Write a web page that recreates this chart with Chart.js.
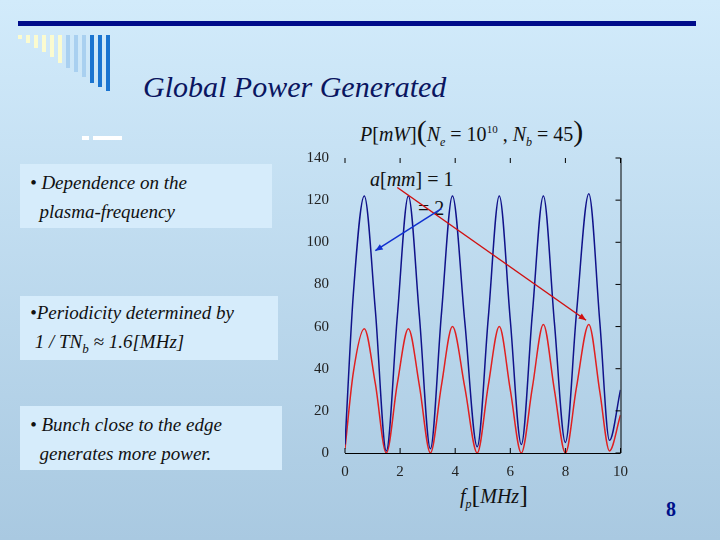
<!DOCTYPE html>
<html><head><meta charset="utf-8">
<script src="https://cdn.jsdelivr.net/npm/chart.js@4"></script>
<style>
body{margin:0;width:720px;height:540px;overflow:hidden;background:linear-gradient(#d2ebfb,#a9c9e1);font-family:"Liberation Serif",serif;position:relative}
.abs{position:absolute}
.box{position:absolute;box-sizing:border-box;background:#d6ecfb;font-style:italic;font-size:19px;color:#111;line-height:29px}
#c{position:absolute;left:305px;top:141px}
</style></head><body>
<div class="abs" style="left:18px;top:21px;width:678px;height:5px;background:#000c8a"></div>
<div class="abs" id="bars" style="left:18px;top:35px"></div>
<div class="abs" style="left:82px;top:136px;width:7px;height:4px;background:#fff"></div>
<div class="abs" style="left:93px;top:136px;width:29px;height:4px;background:#fff"></div>
<div class="abs" style="left:143px;top:70px;font-size:30px;font-style:italic;color:#0a1560">Global Power Generated</div>
<div class="box" style="left:20px;top:164px;width:252px;height:64px;padding:4px 0 0 10px">• Dependence on the<br>&nbsp;&nbsp;plasma-frequency</div>
<div class="box" style="left:20px;top:296px;width:258px;height:64px;padding:2px 0 0 10px">•Periodicity determined by<br>&nbsp;1 / <i>TN</i><sub style="font-size:13px">b</sub> &#x2248; 1.6[<i>MHz</i>]</div>
<div class="box" style="left:20px;top:406px;width:262px;height:64px;padding:4px 0 0 10px">• Bunch close to the edge<br>&nbsp;&nbsp;generates more power.</div>
<div class="abs" style="left:360px;top:114px;font-size:20px;color:#111"><i>P</i>[<i>mW</i>]<span style="font-size:30px">(</span><i>N<sub style="font-size:12px">e</sub></i> = 10<sup style="font-size:11px">10</sup> , <i>N<sub style="font-size:12px">b</sub></i> = 45<span style="font-size:30px">)</span></div>
<div class="abs" style="left:370px;top:168px;font-size:20px;color:#111"><i>a</i>[<i>mm</i>] = 1</div>
<div class="abs" style="left:418px;top:197px;font-size:20px;color:#111">= 2</div>
<div class="abs" style="left:460px;top:480px;font-size:20px;color:#111"><i>f<sub style="font-size:12px">p</sub></i><span style="font-size:26px">[</span><i>MHz</i><span style="font-size:26px">]</span></div>
<div class="abs" style="left:666px;top:498px;font-size:20px;font-weight:bold;color:#00108a">8</div>
<canvas id="c" width="325" height="342"></canvas>
<script>
// decorative bars top-left
const barCols=['#fbfbd0','#fbfbd0','#fbfbd0','#fbfbd0','#fbfbd0','#fbfbd0','#a9d0f0','#a9d0f0','#a9d0f0','#1a74d0','#1a74d0','#1a74d0'];
const barH=[4,8,13,17,22,28,33,37,42,48,52,56];
document.getElementById('bars').innerHTML=barCols.map((c,i)=>`<div style="position:absolute;left:${i*8}px;top:0;width:4px;height:${barH[i]}px;background:${c}"></div>`).join('');

const freq=[0,0.3,0.7,1.1,1.5,1.9,2.3,2.7,3.1,3.5,3.9,4.35,4.8,5.2,5.6,6.0,6.4,6.8,7.2,7.6,8.0,8.4,8.85,9.25,9.6,10];
const powerA2=[4,75,122,68,1,65,122,65,2,66,122,62,3,64,122,63,4,66,122,62,5,66,123,62,6,30];
const powerA1=[2,38,59,33,0,33,59,32,0,32,60,31,0,32,60,30,0,31,61,30,0,31,61,29,1,18];
const xTicks=[0,2,4,6,8,10];
const yTicks=[0,20,40,60,80,100,120,140];

const pts=a=>freq.map((x,i)=>({x:x,y:a[i]}));
const arrows=[{from:[1.9,126],to:[8.75,63],color:'#d01010'},{from:[3.5,116],to:[1.1,96],color:'#1030d0'}];
const deco={id:'deco',afterDraw(ch){
  const {ctx,chartArea:a,scales:{x,y}}=ch;
  ctx.save();ctx.strokeStyle='#000';ctx.lineWidth=1;
  ctx.beginPath();ctx.moveTo(a.left,a.bottom+.5);ctx.lineTo(a.right,a.bottom+.5);
  ctx.moveTo(a.right+.5,a.top);ctx.lineTo(a.right+.5,a.bottom);ctx.stroke();
  ctx.beginPath();
  yTicks.forEach(v=>{const py=y.getPixelForValue(v);ctx.moveTo(a.right,py);ctx.lineTo(a.right-5,py);});
  xTicks.forEach(v=>{const px=x.getPixelForValue(v);ctx.moveTo(px,a.bottom);ctx.lineTo(px,a.bottom-5);ctx.moveTo(px,a.top);ctx.lineTo(px,a.top+5);});
  ctx.stroke();
  arrows.forEach(ar=>{
    const x1=x.getPixelForValue(ar.from[0]),y1=y.getPixelForValue(ar.from[1]);
    const x2=x.getPixelForValue(ar.to[0]),y2=y.getPixelForValue(ar.to[1]);
    ctx.strokeStyle=ar.color;ctx.fillStyle=ar.color;ctx.lineWidth=1.5;
    ctx.beginPath();ctx.moveTo(x1,y1);ctx.lineTo(x2,y2);ctx.stroke();
    const ang=Math.atan2(y2-y1,x2-x1);
    ctx.beginPath();ctx.moveTo(x2,y2);
    ctx.lineTo(x2-8*Math.cos(ang-0.4),y2-8*Math.sin(ang-0.4));
    ctx.lineTo(x2-8*Math.cos(ang+0.4),y2-8*Math.sin(ang+0.4));ctx.fill();
  });
  ctx.restore();
}};
new Chart(document.getElementById('c'),{
  type:'line',
  data:{datasets:[
    {data:pts(powerA2),borderColor:'#10128a',borderWidth:1.5,pointRadius:0,cubicInterpolationMode:'monotone'},
    {data:pts(powerA1),borderColor:'#e02020',borderWidth:1.5,pointRadius:0,cubicInterpolationMode:'monotone'}
  ]},
  options:{responsive:false,animation:false,
    layout:{padding:{top:8,right:2}},
    plugins:{legend:{display:false},tooltip:{enabled:false}},
    scales:{
      x:{type:'linear',min:0,max:10,afterBuildTicks:s=>{s.ticks=xTicks.map(v=>({value:v}))},
        grid:{display:false},border:{display:false},
        ticks:{color:'#222',font:{family:'Liberation Serif',size:15},padding:2,maxRotation:0}},
      y:{min:0,max:140,afterBuildTicks:s=>{s.ticks=yTicks.map(v=>({value:v}))},
        afterFit:s=>{s.width=40},
        grid:{display:false,drawOnChartArea:false},border:{display:false},
        ticks:{color:'#222',font:{family:'Liberation Serif',size:15},padding:8}}
    }},
  plugins:[deco]
});
</script>
</body></html>
